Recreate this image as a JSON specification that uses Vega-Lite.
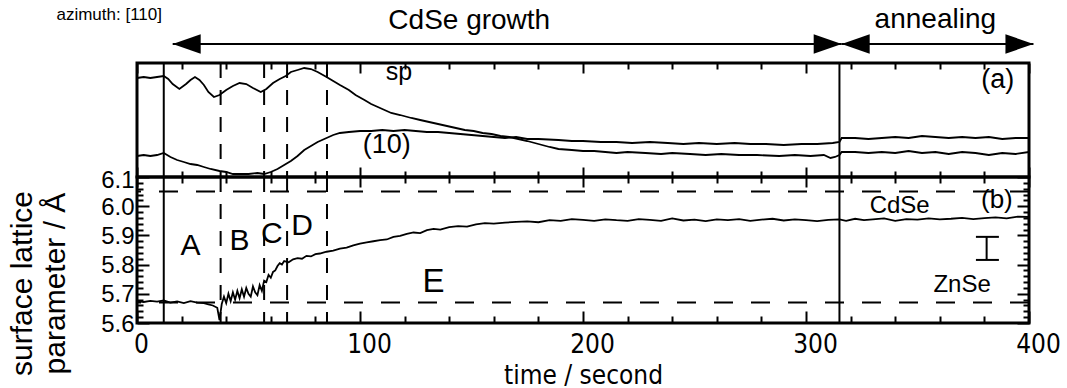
{
  "$schema": "https://vega.github.io/schema/vega-lite/v6.json",
  "padding": {"left": 5, "top": 0, "right": 0, "bottom": 0},
  "background": "white",
  "bounds": "flush",
  "spacing": 0,
  "config": {
    "font": "Liberation Sans",
    "view": {"stroke": "black", "strokeWidth": 3},
    "axis": {"grid": false, "domain": false, "tickColor": "black", "tickWidth": 2, "labelColor": "black", "titleColor": "black", "titleFontWeight": "normal", "labelOverlap": false}
  },
  "datasets": {
    "intensity": [
      {"t":0,"v":99,"s":"sp"},{"t":3,"v":100,"s":"sp"},{"t":6,"v":99,"s":"sp"},{"t":9,"v":100,"s":"sp"},{"t":12,"v":101,"s":"sp"},{"t":14,"v":98,"s":"sp"},{"t":16,"v":93,"s":"sp"},{"t":19,"v":88,"s":"sp"},{"t":22,"v":93,"s":"sp"},{"t":24,"v":97,"s":"sp"},{"t":26,"v":100,"s":"sp"},{"t":28,"v":97,"s":"sp"},{"t":30,"v":92,"s":"sp"},{"t":32,"v":85,"s":"sp"},{"t":34.5,"v":80,"s":"sp"},{"t":37,"v":82,"s":"sp"},{"t":40,"v":87,"s":"sp"},{"t":43,"v":91,"s":"sp"},{"t":46,"v":94,"s":"sp"},{"t":49,"v":93,"s":"sp"},{"t":52,"v":89,"s":"sp"},{"t":55.5,"v":85,"s":"sp"},{"t":58,"v":88,"s":"sp"},{"t":61,"v":94,"s":"sp"},{"t":64,"v":98,"s":"sp"},{"t":66.7,"v":101,"s":"sp"},{"t":69,"v":105,"s":"sp"},{"t":72,"v":107,"s":"sp"},{"t":75,"v":109,"s":"sp"},{"t":78,"v":108,"s":"sp"},{"t":81,"v":105,"s":"sp"},{"t":85,"v":100,"s":"sp"},{"t":88,"v":96,"s":"sp"},{"t":91,"v":92,"s":"sp"},{"t":95,"v":87,"s":"sp"},{"t":98,"v":82,"s":"sp"},{"t":102,"v":77,"s":"sp"},{"t":105,"v":73,"s":"sp"},{"t":108,"v":70,"s":"sp"},{"t":111,"v":67,"s":"sp"},{"t":114,"v":64,"s":"sp"},{"t":118,"v":62,"s":"sp"},{"t":123,"v":59,"s":"sp"},{"t":127,"v":57,"s":"sp"},{"t":131,"v":55,"s":"sp"},{"t":135,"v":53,"s":"sp"},{"t":139,"v":51,"s":"sp"},{"t":143,"v":49,"s":"sp"},{"t":147,"v":47,"s":"sp"},{"t":151,"v":46,"s":"sp"},{"t":155,"v":44,"s":"sp"},{"t":159,"v":43,"s":"sp"},{"t":163,"v":41,"s":"sp"},{"t":167,"v":40,"s":"sp"},{"t":171,"v":38,"s":"sp"},{"t":175,"v":36,"s":"sp"},{"t":180,"v":33,"s":"sp"},{"t":185,"v":30,"s":"sp"},{"t":189,"v":28,"s":"sp"},{"t":195,"v":27,"s":"sp"},{"t":200,"v":26,"s":"sp"},{"t":205,"v":26,"s":"sp"},{"t":210,"v":25,"s":"sp"},{"t":215,"v":24,"s":"sp"},{"t":220,"v":25,"s":"sp"},{"t":228,"v":24,"s":"sp"},{"t":235,"v":23,"s":"sp"},{"t":240,"v":24,"s":"sp"},{"t":248,"v":23,"s":"sp"},{"t":255,"v":22,"s":"sp"},{"t":262,"v":23,"s":"sp"},{"t":270,"v":22,"s":"sp"},{"t":278,"v":22,"s":"sp"},{"t":288,"v":21,"s":"sp"},{"t":295,"v":22,"s":"sp"},{"t":302,"v":21,"s":"sp"},{"t":308,"v":22,"s":"sp"},{"t":311,"v":19,"s":"sp"},{"t":313,"v":20,"s":"sp"},{"t":315,"v":22,"s":"sp"},{"t":316,"v":25,"s":"sp"},{"t":322,"v":25,"s":"sp"},{"t":328,"v":24,"s":"sp"},{"t":334,"v":25,"s":"sp"},{"t":340,"v":24,"s":"sp"},{"t":346,"v":26,"s":"sp"},{"t":352,"v":24,"s":"sp"},{"t":358,"v":25,"s":"sp"},{"t":364,"v":23,"s":"sp"},{"t":370,"v":25,"s":"sp"},{"t":376,"v":24,"s":"sp"},{"t":382,"v":22,"s":"sp"},{"t":388,"v":24,"s":"sp"},{"t":394,"v":23,"s":"sp"},{"t":400,"v":25,"s":"sp"},
      {"t":0,"v":21,"s":"10"},{"t":3,"v":22,"s":"10"},{"t":6,"v":21,"s":"10"},{"t":9,"v":22,"s":"10"},{"t":12,"v":24,"s":"10"},{"t":15,"v":20,"s":"10"},{"t":18,"v":17,"s":"10"},{"t":21,"v":15,"s":"10"},{"t":24,"v":13,"s":"10"},{"t":27,"v":12,"s":"10"},{"t":30,"v":10,"s":"10"},{"t":33,"v":8,"s":"10"},{"t":37,"v":6,"s":"10"},{"t":40,"v":5,"s":"10"},{"t":43,"v":3,"s":"10"},{"t":46,"v":3,"s":"10"},{"t":50,"v":3,"s":"10"},{"t":54,"v":4,"s":"10"},{"t":57,"v":3,"s":"10"},{"t":60,"v":5,"s":"10"},{"t":63,"v":8,"s":"10"},{"t":66,"v":12,"s":"10"},{"t":69,"v":16,"s":"10"},{"t":72,"v":21,"s":"10"},{"t":75,"v":27,"s":"10"},{"t":78,"v":31,"s":"10"},{"t":81,"v":35,"s":"10"},{"t":85,"v":39,"s":"10"},{"t":88,"v":42,"s":"10"},{"t":91,"v":44,"s":"10"},{"t":95,"v":45,"s":"10"},{"t":100,"v":46,"s":"10"},{"t":105,"v":46,"s":"10"},{"t":110,"v":47,"s":"10"},{"t":115,"v":46,"s":"10"},{"t":120,"v":47,"s":"10"},{"t":125,"v":46,"s":"10"},{"t":130,"v":45,"s":"10"},{"t":135,"v":45,"s":"10"},{"t":140,"v":44,"s":"10"},{"t":145,"v":43,"s":"10"},{"t":150,"v":42,"s":"10"},{"t":155,"v":41,"s":"10"},{"t":160,"v":40,"s":"10"},{"t":165,"v":39,"s":"10"},{"t":170,"v":40,"s":"10"},{"t":175,"v":38,"s":"10"},{"t":180,"v":38,"s":"10"},{"t":189,"v":37,"s":"10"},{"t":195,"v":36,"s":"10"},{"t":200,"v":36,"s":"10"},{"t":208,"v":35,"s":"10"},{"t":215,"v":35,"s":"10"},{"t":222,"v":34,"s":"10"},{"t":230,"v":35,"s":"10"},{"t":238,"v":34,"s":"10"},{"t":245,"v":33,"s":"10"},{"t":252,"v":34,"s":"10"},{"t":260,"v":33,"s":"10"},{"t":268,"v":34,"s":"10"},{"t":275,"v":33,"s":"10"},{"t":282,"v":33,"s":"10"},{"t":290,"v":32,"s":"10"},{"t":298,"v":33,"s":"10"},{"t":305,"v":33,"s":"10"},{"t":312,"v":34,"s":"10"},{"t":315,"v":35,"s":"10"},{"t":316,"v":39,"s":"10"},{"t":322,"v":39,"s":"10"},{"t":328,"v":38,"s":"10"},{"t":334,"v":39,"s":"10"},{"t":340,"v":40,"s":"10"},{"t":346,"v":39,"s":"10"},{"t":352,"v":41,"s":"10"},{"t":358,"v":40,"s":"10"},{"t":364,"v":39,"s":"10"},{"t":370,"v":40,"s":"10"},{"t":376,"v":39,"s":"10"},{"t":382,"v":40,"s":"10"},{"t":388,"v":38,"s":"10"},{"t":394,"v":39,"s":"10"},{"t":400,"v":39,"s":"10"}
    ],
    "lattice": [
      {"t":0,"a":5.675},{"t":3,"a":5.672},{"t":6,"a":5.676},{"t":9,"a":5.673},{"t":12,"a":5.677},{"t":15,"a":5.670},{"t":18,"a":5.674},{"t":21,"a":5.668},{"t":24,"a":5.675},{"t":27,"a":5.670},{"t":30,"a":5.668},{"t":32,"a":5.664},{"t":34,"a":5.660},{"t":36,"a":5.652},{"t":37,"a":5.61},{"t":38,"a":5.665},{"t":39,"a":5.690},{"t":40,"a":5.668},{"t":41,"a":5.700},{"t":42,"a":5.675},{"t":43,"a":5.705},{"t":44,"a":5.680},{"t":45,"a":5.710},{"t":46,"a":5.685},{"t":47,"a":5.715},{"t":48,"a":5.690},{"t":49,"a":5.720},{"t":50,"a":5.700},{"t":51,"a":5.690},{"t":52,"a":5.725},{"t":53,"a":5.705},{"t":54,"a":5.695},{"t":55,"a":5.730},{"t":56,"a":5.710},{"t":57,"a":5.745},{"t":58,"a":5.740},{"t":59,"a":5.765},{"t":60,"a":5.755},{"t":61,"a":5.775},{"t":62,"a":5.780},{"t":63,"a":5.795},{"t":64,"a":5.805},{"t":65,"a":5.800},{"t":66,"a":5.812},{"t":68,"a":5.808},{"t":70,"a":5.818},{"t":72,"a":5.822},{"t":74,"a":5.820},{"t":76,"a":5.830},{"t":78,"a":5.828},{"t":80,"a":5.836},{"t":82,"a":5.838},{"t":85,"a":5.844},{"t":88,"a":5.848},{"t":91,"a":5.855},{"t":94,"a":5.858},{"t":97,"a":5.866},{"t":100,"a":5.872},{"t":103,"a":5.876},{"t":106,"a":5.880},{"t":109,"a":5.884},{"t":112,"a":5.886},{"t":115,"a":5.895},{"t":118,"a":5.898},{"t":121,"a":5.905},{"t":124,"a":5.910},{"t":127,"a":5.908},{"t":130,"a":5.918},{"t":133,"a":5.922},{"t":136,"a":5.920},{"t":140,"a":5.928},{"t":144,"a":5.932},{"t":148,"a":5.930},{"t":152,"a":5.938},{"t":156,"a":5.942},{"t":160,"a":5.940},{"t":165,"a":5.944},{"t":170,"a":5.946},{"t":175,"a":5.948},{"t":180,"a":5.945},{"t":185,"a":5.952},{"t":190,"a":5.950},{"t":195,"a":5.956},{"t":200,"a":5.953},{"t":205,"a":5.950},{"t":210,"a":5.955},{"t":215,"a":5.952},{"t":220,"a":5.950},{"t":225,"a":5.956},{"t":230,"a":5.953},{"t":235,"a":5.950},{"t":240,"a":5.958},{"t":245,"a":5.951},{"t":250,"a":5.954},{"t":255,"a":5.949},{"t":260,"a":5.955},{"t":265,"a":5.952},{"t":270,"a":5.956},{"t":275,"a":5.950},{"t":280,"a":5.954},{"t":285,"a":5.957},{"t":290,"a":5.951},{"t":295,"a":5.955},{"t":300,"a":5.952},{"t":305,"a":5.949},{"t":310,"a":5.953},{"t":315,"a":5.955},{"t":318,"a":5.950},{"t":322,"a":5.957},{"t":326,"a":5.952},{"t":330,"a":5.955},{"t":335,"a":5.958},{"t":340,"a":5.950},{"t":345,"a":5.956},{"t":350,"a":5.954},{"t":355,"a":5.958},{"t":360,"a":5.955},{"t":365,"a":5.957},{"t":370,"a":5.960},{"t":375,"a":5.956},{"t":380,"a":5.959},{"t":385,"a":5.962},{"t":390,"a":5.958},{"t":395,"a":5.964},{"t":400,"a":5.963}
    ]
  },
  "vconcat": [
    {
      "width": 892,
      "height": 63,
      "view": {"stroke": null},
      "layer": [
        {
          "data": {"values": [{"x1": 16, "x2": 316, "v": 19}, {"x1": 316, "x2": 402, "v": 19}]},
          "mark": {"type": "rule", "color": "black", "strokeWidth": 2},
          "encoding": {
            "x": {"field": "x1", "type": "quantitative", "scale": {"domain": [0, 400], "nice": false}, "axis": null},
            "x2": {"field": "x2"},
            "y": {"field": "v", "type": "quantitative", "scale": {"domain": [0, 63], "nice": false}, "axis": null}
          }
        },
        {
          "data": {"values": [{"t": 16, "v": 19, "d": "L"}, {"t": 316, "v": 19, "d": "R"}, {"t": 316, "v": 19, "d": "L"}, {"t": 402, "v": 19, "d": "R"}]},
          "mark": {"type": "point", "filled": true, "color": "black", "opacity": 1, "size": 784, "strokeWidth": 0},
          "encoding": {
            "x": {"field": "t", "type": "quantitative", "axis": null},
            "y": {"field": "v", "type": "quantitative", "axis": null},
            "shape": {"field": "d", "type": "nominal", "scale": {"domain": ["L", "R"], "range": ["M0,0L2,-0.7L2,0.7Z", "M0,0L-2,-0.7L-2,0.7Z"]}, "legend": null}
          }
        },
        {
          "data": {"values": [{"t": 11.2, "v": 43, "label": "azimuth: [110]"}]},
          "mark": {"type": "text", "align": "right", "baseline": "alphabetic", "fontSize": 17, "color": "black"},
          "encoding": {
            "x": {"field": "t", "type": "quantitative", "axis": null},
            "y": {"field": "v", "type": "quantitative", "axis": null},
            "text": {"field": "label"}
          }
        },
        {
          "data": {"values": [{"t": 149, "v": 34, "label": "CdSe growth"}, {"t": 358, "v": 35, "label": "annealing"}]},
          "mark": {"type": "text", "align": "center", "baseline": "alphabetic", "fontSize": 28, "color": "black"},
          "encoding": {
            "x": {"field": "t", "type": "quantitative", "axis": null},
            "y": {"field": "v", "type": "quantitative", "axis": null},
            "text": {"field": "label"}
          }
        }
      ]
    },
    {
      "width": 892,
      "height": 114,
      "layer": [
        {
          "data": {"name": "intensity"},
          "mark": {"type": "line", "color": "black", "strokeWidth": 1.8},
          "encoding": {
            "x": {"field": "t", "type": "quantitative", "scale": {"domain": [0, 400], "nice": false},
              "axis": {"orient": "bottom", "values": [0,20,40,60,80,100,120,140,160,180,200,220,240,260,280,300,320,340,360,380,400], "labels": false, "title": null,
                "tickSize": {"condition": {"test": "datum.value % 100 === 0", "value": -10}, "value": -6}}},
            "y": {"field": "v", "type": "quantitative", "scale": {"domain": [0, 114], "nice": false},
              "axis": {"orient": "left", "labels": false, "ticks": false, "title": ["spot", "intensity /", "a.u."], "titleFontSize": 28, "titleLineHeight": 33, "titleX": -104, "titleBaseline": "alphabetic"}},
            "detail": {"field": "s", "type": "nominal"}
          }
        },
        {
          "data": {"values": [{"t": 12}, {"t": 315}]},
          "mark": {"type": "rule", "color": "black", "strokeWidth": 2},
          "encoding": {
            "x": {"field": "t", "type": "quantitative",
              "axis": {"orient": "top", "values": [0,20,40,60,80,100,120,140,160,180,200,220,240,260,280,300,320,340,360,380,400], "labels": false, "title": null,
                "tickSize": {"condition": {"test": "datum.value % 100 === 0", "value": -10}, "value": -6}}}
          }
        },
        {
          "data": {"values": [{"t": 37.5}, {"t": 57}, {"t": 67.3}, {"t": 85.2}]},
          "mark": {"type": "rule", "color": "black", "strokeWidth": 2, "strokeDash": [15, 12]},
          "encoding": {"x": {"field": "t", "type": "quantitative", "axis": null}}
        },
        {
          "data": {"values": [{"t": 117.5, "v": 97, "label": "sp"}]},
          "mark": {"type": "text", "align": "center", "baseline": "alphabetic", "fontSize": 25, "color": "black"},
          "encoding": {"x": {"field": "t", "type": "quantitative", "axis": null}, "y": {"field": "v", "type": "quantitative", "axis": null}, "text": {"field": "label"}}
        },
        {
          "data": {"values": [{"t": 112, "v": 24, "label": "(10)"}, {"t": 386, "v": 89, "label": "(a)"}]},
          "mark": {"type": "text", "align": "center", "baseline": "alphabetic", "fontSize": 27, "color": "black"},
          "encoding": {"x": {"field": "t", "type": "quantitative", "axis": null}, "y": {"field": "v", "type": "quantitative", "axis": null}, "text": {"field": "label"}}
        }
      ],
      "resolve": {"axis": {"x": "independent"}}
    },
    {
      "width": 892,
      "height": 146,
      "layer": [
        {
          "data": {"name": "lattice"},
          "mark": {"type": "line", "color": "black", "strokeWidth": 1.8},
          "encoding": {
            "x": {"field": "t", "type": "quantitative", "scale": {"domain": [0, 400], "nice": false},
              "axis": {"orient": "bottom", "values": [0,20,40,60,80,100,120,140,160,180,200,220,240,260,280,300,320,340,360,380,400],
                "labelExpr": "datum.value % 100 === 0 ? datum.label : ''", "labelFlush": false,
                "labelOffset": {"condition": {"test": "datum.value === 0", "value": 4}, "value": 9},
                "labelFont": "Liberation Sans Narrow, DejaVu Sans Condensed, Liberation Sans", "labelFontSize": 26, "labelPadding": 20,
                "title": "time / second", "titleFont": "Liberation Sans Narrow, DejaVu Sans Condensed, Liberation Sans", "titleFontSize": 26, "titlePadding": 0,
                "tickSize": {"condition": {"test": "datum.value % 100 === 0", "value": -12}, "value": -7}}},
            "y": {"field": "a", "type": "quantitative", "scale": {"domain": [5.6, 6.1], "nice": false, "zero": false},
              "axis": {"orient": "left", "values": [5.6,5.62,5.64,5.66,5.68,5.7,5.72,5.74,5.76,5.78,5.8,5.82,5.84,5.86,5.88,5.9,5.92,5.94,5.96,5.98,6,6.02,6.04,6.06,6.08,6.1],
                "labelExpr": "abs(datum.value*10 - round(datum.value*10)) < 0.01 ? format(datum.value, '.1f') : ''",
                "labelFontSize": 24, "labelPadding": 15,
                "labelOffset": {"condition": {"test": "datum.value > 6.09", "value": 3}, "value": 1},
                "tickSize": {"condition": {"test": "abs(datum.value*10 - round(datum.value*10)) < 0.01", "value": -12}, "value": -6},
                "title": ["surface lattice", "parameter / Å"], "titleFontSize": 30, "titleLineHeight": 33, "titleX": -106, "titleY": 106, "titleBaseline": "alphabetic"}}
          }
        },
        {
          "data": {"values": [{"a": 6.05}, {"a": 5.67}]},
          "mark": {"type": "rule", "color": "black", "strokeWidth": 2, "strokeDash": [19, 18]},
          "encoding": {
            "y": {"field": "a", "type": "quantitative",
              "axis": {"orient": "right", "values": [5.6,5.62,5.64,5.66,5.68,5.7,5.72,5.74,5.76,5.78,5.8,5.82,5.84,5.86,5.88,5.9,5.92,5.94,5.96,5.98,6,6.02,6.04,6.06,6.08,6.1], "labels": false, "title": null,
                "tickSize": {"condition": {"test": "abs(datum.value*10 - round(datum.value*10)) < 0.01", "value": -12}, "value": -6}}}
          }
        },
        {
          "data": {"values": [{"t": 12}, {"t": 315}]},
          "mark": {"type": "rule", "color": "black", "strokeWidth": 2},
          "encoding": {
            "x": {"field": "t", "type": "quantitative",
              "axis": {"orient": "top", "values": [0,20,40,60,80,100,120,140,160,180,200,220,240,260,280,300,320,340,360,380,400], "labels": false, "title": null,
                "tickSize": {"condition": {"test": "datum.value % 100 === 0", "value": -10}, "value": -6}}}
          }
        },
        {
          "data": {"values": [{"t": 37.5}, {"t": 57}, {"t": 67.3}, {"t": 85.2}]},
          "mark": {"type": "rule", "color": "black", "strokeWidth": 2, "strokeDash": [15, 12]},
          "encoding": {"x": {"field": "t", "type": "quantitative", "axis": null}}
        },
        {
          "data": {"values": [{"t": 24, "a": 5.833, "label": "A"}, {"t": 46, "a": 5.850, "label": "B"}, {"t": 60.5, "a": 5.874, "label": "C"}, {"t": 74, "a": 5.901, "label": "D"}]},
          "mark": {"type": "text", "align": "center", "baseline": "alphabetic", "fontSize": 30, "color": "black"},
          "encoding": {"x": {"field": "t", "type": "quantitative", "axis": null}, "y": {"field": "a", "type": "quantitative", "axis": null}, "text": {"field": "label"}}
        },
        {
          "data": {"values": [{"t": 133, "a": 5.706, "label": "E"}]},
          "mark": {"type": "text", "align": "center", "baseline": "alphabetic", "fontSize": 33, "color": "black"},
          "encoding": {"x": {"field": "t", "type": "quantitative", "axis": null}, "y": {"field": "a", "type": "quantitative", "axis": null}, "text": {"field": "label"}}
        },
        {
          "data": {"values": [{"t": 385.6, "a": 5.994, "label": "(b)"}]},
          "mark": {"type": "text", "align": "center", "baseline": "alphabetic", "fontSize": 26, "color": "black"},
          "encoding": {"x": {"field": "t", "type": "quantitative", "axis": null}, "y": {"field": "a", "type": "quantitative", "axis": null}, "text": {"field": "label"}}
        },
        {
          "data": {"values": [{"t": 342, "a": 5.977, "label": "CdSe"}, {"t": 370, "a": 5.706, "label": "ZnSe"}]},
          "mark": {"type": "text", "align": "center", "baseline": "alphabetic", "fontSize": 24, "color": "black"},
          "encoding": {"x": {"field": "t", "type": "quantitative", "axis": null}, "y": {"field": "a", "type": "quantitative", "axis": null}, "text": {"field": "label"}}
        },
        {
          "data": {"values": [{"t": 381, "a": 5.816, "a2": 5.895}]},
          "mark": {"type": "rule", "color": "black", "strokeWidth": 2},
          "encoding": {"x": {"field": "t", "type": "quantitative", "axis": null}, "y": {"field": "a", "type": "quantitative", "axis": null}, "y2": {"field": "a2"}}
        },
        {
          "data": {"values": [{"t": 376.2, "t2": 386.5, "a": 5.816}, {"t": 376.2, "t2": 386.5, "a": 5.895}]},
          "mark": {"type": "rule", "color": "black", "strokeWidth": 2},
          "encoding": {"x": {"field": "t", "type": "quantitative", "axis": null}, "x2": {"field": "t2"}, "y": {"field": "a", "type": "quantitative", "axis": null}}
        }
      ],
      "resolve": {"axis": {"x": "independent", "y": "independent"}}
    }
  ]
}
